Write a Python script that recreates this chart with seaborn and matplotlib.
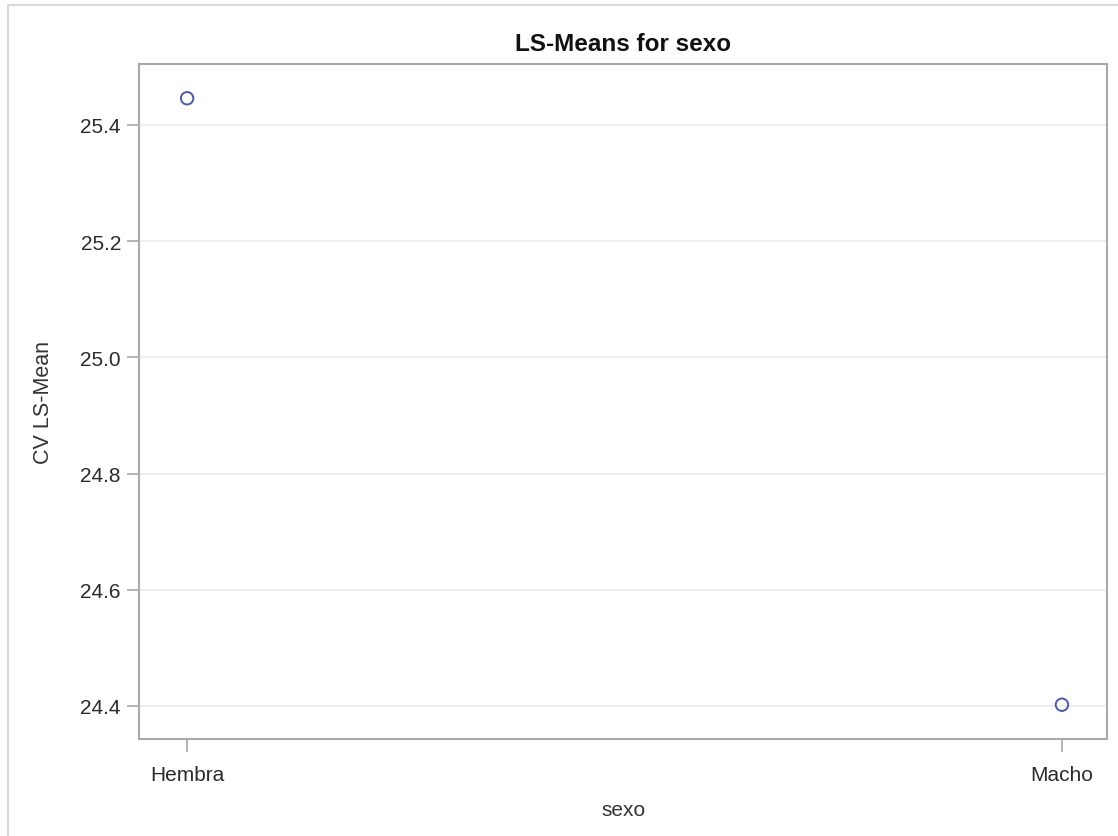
import matplotlib
matplotlib.use("Agg")
import matplotlib.pyplot as plt
import seaborn as sns
import pandas as pd
from matplotlib.patches import Rectangle

sexo = ["Hembra", "Macho"]
ls_means = [25.446, 24.402]
yticks = [24.4, 24.6, 24.8, 25.0, 25.2, 25.4]

sns.set_theme(style="white")
plt.rcParams['font.family'] = ['Liberation Sans', 'DejaVu Sans']

df = pd.DataFrame({"sexo": sexo, "CV LS-Mean": ls_means})

fig = plt.figure(figsize=(11.18, 8.37), dpi=100)
ax = fig.add_axes([139/1118, 97/837, (1107-139)/1118, (740-65)/837])

# outer frame
fig.patches.append(Rectangle((8/1118, -0.05), 1.2, (837-6)/837 + 0.05,
                             transform=fig.transFigure, fill=False,
                             edgecolor="#d9d9d9", linewidth=1.5, zorder=0))

for t in yticks:
    ax.axhline(t, color="#ebebeb", linewidth=1.2, zorder=0)

sns.scatterplot(data=df, x="sexo", y="CV LS-Mean", ax=ax, marker="o", s=80,
                facecolors="none", edgecolor="#4a5aa8", linewidth=1.4, zorder=3)

ax.set_xlim(-0.055, 1.0515)
ax.set_ylim(24.343, 25.505)
ax.set_yticks(yticks)
ax.set_yticklabels([f"{t:.1f}" for t in yticks])

for s in ax.spines.values():
    s.set_color("#a6a9ad")
    s.set_linewidth(1.5)

ax.tick_params(axis="y", direction="out", length=9, width=1.2, color="#a6a9ad",
               labelsize=15, labelcolor="#2b2b2b", pad=4, left=True)
ax.tick_params(axis="x", direction="out", length=9, width=1.2, color="#a6a9ad",
               labelsize=15, labelcolor="#2b2b2b", pad=10, bottom=True)
ax.set_xlabel("sexo", fontsize=15, color="#333333", labelpad=11)
ax.set_ylabel("CV LS-Mean", fontsize=15.5, color="#333333", labelpad=19)
ax.set_title("LS-Means for sexo", fontsize=17.5, fontweight="bold", color="#111111", pad=10)

fig.savefig("out.png", dpi=100)
